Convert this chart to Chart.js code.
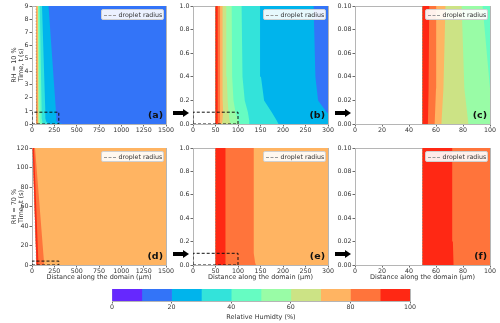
<!DOCTYPE html>
<html>
<head>
<meta charset="utf-8">
<script src="https://cdn.jsdelivr.net/npm/chart.js@4.4.1/dist/chart.umd.min.js"></script>
<style>
  html, body { margin: 0; padding: 0; background: #fff; }
  #page { position: relative; width: 500px; height: 323px; overflow: hidden; font-family: 'DejaVu Sans', sans-serif; }
  canvas { position: absolute; }
  .legend { position: absolute; box-sizing: border-box; width: 63px; height: 11px; background: rgba(255,255,255,0.9);
            border: 1px solid #d0d0d0; border-radius: 2px; font-size: 6.3px; color: #333; line-height: 9px; white-space: nowrap; }
  .legend i { display: inline-block; width: 12px; border-top: 1px dashed #999; vertical-align: middle; margin: 0 3px 0 2px; }
  .tag { position: absolute; font-weight: bold; font-size: 9.5px; line-height: 10px; color: #111; }
  .arrow { position: absolute; width: 16px; height: 8px; }
  .arrow b { position: absolute; left: 0; top: 2.3px; width: 11px; height: 3.4px; background: #000; }
  .arrow s { position: absolute; left: 10px; top: 0; width: 0; height: 0; border-left: 6px solid #000;
             border-top: 4px solid transparent; border-bottom: 4px solid transparent; }
</style>
</head>
<body>
<div id="page"></div>
<script>
// RH contour levels (%) and the rainbow colour of each band
const rhLevels = [0, 10, 20, 30, 40, 50, 60, 70, 80, 90, 100];
const rhColors = ['#6628fe', '#3374f8', '#00b4ec', '#33e3da', '#66fcc2', '#99fca6', '#cce385', '#ffb462', '#ff743b', '#ff2814'];

// RH = 10 % run: time (s) and the position (um) of each RH contour
const timeLow   = [0, 0.03, 0.1, 0.2, 0.4, 1, 9];
const radiusLow = [50, 50, 50, 50, 50, 50, 45];
const rh90Low   = [54, 54.5, 55, 55, 55, 55, 52];
const rh80Low   = [59, 60, 60.5, 60, 60, 60, 55];
const rh70Low   = [64, 65.5, 67, 66, 65.5, 66, 60];
const rh60Low   = [84, 81, 79, 77, 75, 74, 65];
const rh50Low   = [104, 100, 94.5, 90, 87, 86, 72];
const rh40Low   = [126, 125, 122, 115, 110, 108, 87];
const rh30Low   = [190, 186, 175, 158, 151, 149, 112];
const rh20Low   = [340, 320, 297, 278, 272, 268, 185];

// RH = 70 % run
const timeHigh   = [0, 0.02, 0.1, 1, 120];
const radiusHigh = [50, 50, 50, 50, 7];
const rh90High   = [73, 72.5, 72, 72, 22];
const rh80High   = [140, 138, 135, 135, 34];

const domainEnd = 1500;

// axis ranges of the three zoom levels
const xMaxes = [1500, 300, 100];
const xSteps = [250, 50, 20];
const yMaxLow = [9, 1, 0.1];
const yStepLow = [1, 0.2, 0.02];
const yMaxHigh = [120, 1, 0.1];
const yStepHigh = [20, 0.2, 0.02];
const yDecimals = [0, 1, 2];

// dashed boxes marking the zoomed window [x, t]
const zoomBoxA = [300, 0.9];
const zoomBoxB = [100, 0.1];
const zoomBoxD = [300, 4];
const zoomBoxE = [100, 0.1];

const tickFont = { family: 'DejaVu Sans', size: 6.3 };
const titleFont = { family: 'DejaVu Sans', size: 6.5, lineHeight: 1 };
const frameColor = '#b5b5b5';
const page = document.getElementById('page');

function polygon(times, inner, outer) {
    const pts = times.map((t, i) => ({ x: outer[i], y: t }));
    for (let i = times.length - 1; i >= 0; i--) pts.push({ x: inner[i], y: times[i] });
    return pts;
}

function bandSets(times, radius, bounds, colorIdx) {
    return bounds.map((outer, k) => ({
        data: polygon(times, radius, outer),
        showLine: true,
        fill: 'shape',
        backgroundColor: rhColors[colorIdx[k]],
        borderWidth: 0,
        pointRadius: 0
    }));
}

const lowBands = bandSets(timeLow, radiusLow,
    [rh90Low, rh80Low, rh70Low, rh60Low, rh50Low, rh40Low, rh30Low, rh20Low, timeLow.map(() => domainEnd)],
    [9, 8, 7, 6, 5, 4, 3, 2, 1]);
const highBands = bandSets(timeHigh, radiusHigh,
    [rh90High, rh80High, timeHigh.map(() => domainEnd)],
    [9, 8, 7]);

const panels = [
    { tag: '(a)', run: 'low', z: 0, left: 32, top: 6, right: 166, bottom: 124, box: zoomBoxA, yTitle: ['RH = 10 %', 'Time, t (s)'] },
    { tag: '(b)', run: 'low', z: 1, left: 193, top: 6, right: 328, bottom: 124, box: zoomBoxB },
    { tag: '(c)', run: 'low', z: 2, left: 355, top: 6, right: 490, bottom: 124 },
    { tag: '(d)', run: 'high', z: 0, left: 32, top: 148, right: 166, bottom: 265, box: zoomBoxD, yTitle: ['RH = 70 %', 'Time, t (s)'], xTitle: true },
    { tag: '(e)', run: 'high', z: 1, left: 193, top: 148, right: 328, bottom: 265, box: zoomBoxE, xTitle: true },
    { tag: '(f)', run: 'high', z: 2, left: 355, top: 148, right: 490, bottom: 265, xTitle: true }
];

const yAxisW = 32;
const padTop = 6;
const padRight = 10;

function frameAxis(axis, position) {
    return {
        type: 'linear', axis: axis, position: position, display: true,
        ticks: { display: false }, grid: { display: false },
        border: { color: frameColor, width: 1 },
        afterFit: s => { if (axis === 'x') s.height = 0; else s.width = 0; }
    };
}

panels.forEach(p => {
    const low = p.run === 'low';
    const times = low ? timeLow : timeHigh;
    const radius = low ? radiusLow : radiusHigh;
    const xAxisH = p.xTitle ? 16 : 14;
    const cLeft = p.left - yAxisW;
    const cTop = p.top - padTop;
    const w = p.right + padRight - cLeft;
    const h = p.bottom + xAxisH - cTop;

    const canvas = document.createElement('canvas');
    canvas.width = w; canvas.height = h;
    canvas.style.left = cLeft + 'px'; canvas.style.top = cTop + 'px';
    canvas.style.width = w + 'px'; canvas.style.height = h + 'px';
    page.appendChild(canvas);

    const datasets = [];
    if (p.box) {
        datasets.push({
            data: [{ x: 0, y: 0 }, { x: p.box[0], y: 0 }, { x: p.box[0], y: p.box[1] }, { x: 0, y: p.box[1] }, { x: 0, y: 0 }],
            showLine: true, fill: false, borderColor: '#111', borderWidth: 1, borderDash: [3, 2], pointRadius: 0
        });
    }
    datasets.push({
        label: 'droplet radius',
        data: times.map((t, i) => ({ x: radius[i], y: t })),
        showLine: true, fill: false, borderColor: 'rgba(120,120,120,0.7)', borderWidth: 0.7, borderDash: [1.5, 1.5], pointRadius: 0
    });
    (low ? lowBands : highBands).forEach(b => datasets.push(b));

    const yMax = low ? yMaxLow[p.z] : yMaxHigh[p.z];
    const yStep = low ? yStepLow[p.z] : yStepHigh[p.z];

    new Chart(canvas, {
        type: 'scatter',
        data: { datasets: datasets },
        options: {
            responsive: false, animation: false, devicePixelRatio: 1, events: [],
            layout: { padding: { top: padTop, right: padRight, left: 0, bottom: 0 } },
            plugins: { legend: { display: false }, tooltip: { enabled: false } },
            scales: {
                x: {
                    type: 'linear', min: 0, max: xMaxes[p.z],
                    ticks: { stepSize: xSteps[p.z], autoSkip: false, maxRotation: 0, font: tickFont, color: '#333', padding: 0,
                             callback: v => String(v) },
                    grid: { display: true, drawOnChartArea: false, tickLength: 2.5, tickColor: '#444', tickWidth: 0.8 },
                    border: { color: frameColor, width: 1 },
                    title: { display: !!p.xTitle, text: 'Distance along the domain (μm)', font: titleFont, color: '#333',
                             padding: { top: 0, bottom: 0.75 } },
                    afterFit: s => { s.height = xAxisH; }
                },
                y: {
                    type: 'linear', min: 0, max: yMax,
                    ticks: { stepSize: yStep, font: tickFont, color: '#333', padding: 1,
                             callback: v => v.toFixed(yDecimals[p.z]) },
                    grid: { display: true, drawOnChartArea: false, tickLength: 2.5, tickColor: '#444', tickWidth: 0.8 },
                    border: { color: frameColor, width: 1 },
                    title: { display: !!p.yTitle, text: p.yTitle || '', font: titleFont, color: '#333',
                             padding: { top: 11.5, bottom: 0 } },
                    afterFit: s => { s.width = yAxisW; }
                },
                xTop: frameAxis('x', 'top'),
                yRight: frameAxis('y', 'right')
            }
        }
    });

    const lg = document.createElement('div');
    lg.className = 'legend';
    lg.style.left = (p.right - 2.5 - 63) + 'px';
    lg.style.top = (p.top + 3) + 'px';
    lg.innerHTML = '<i></i>droplet radius';
    page.appendChild(lg);

    const tg = document.createElement('div');
    tg.className = 'tag';
    tg.textContent = p.tag;
    tg.style.right = (500 - p.right + 3) + 'px';
    tg.style.top = (p.bottom - 14) + 'px';
    page.appendChild(tg);

    if (p.z > 0) {
        const ar = document.createElement('div');
        ar.className = 'arrow';
        ar.innerHTML = '<b></b><s></s>';
        ar.style.left = (p.left - 20) + 'px';
        ar.style.top = (p.bottom - 15) + 'px';
        page.appendChild(ar);
    }
});

// colour bar
const cb = document.createElement('canvas');
cb.width = 320; cb.height = 40;
cb.style.left = '100px'; cb.style.top = '283px';
cb.style.width = '320px'; cb.style.height = '40px';
page.appendChild(cb);

new Chart(cb, {
    type: 'bar',
    data: {
        labels: [''],
        datasets: rhColors.map((c, i) => ({
            data: [rhLevels[i + 1] - rhLevels[i]],
            backgroundColor: c, borderWidth: 0, barPercentage: 1, categoryPercentage: 1
        }))
    },
    options: {
        indexAxis: 'y',
        responsive: false, animation: false, devicePixelRatio: 1, events: [],
        layout: { padding: { top: 6, right: 10, left: 12, bottom: 0 } },
        plugins: { legend: { display: false }, tooltip: { enabled: false } },
        scales: {
            x: {
                stacked: true, min: 0, max: 100,
                ticks: { stepSize: 20, font: tickFont, color: '#333', padding: 0 },
                grid: { display: true, drawOnChartArea: false, tickLength: 2.5, tickColor: '#444', tickWidth: 0.8 },
                border: { color: frameColor, width: 1 },
                title: { display: true, text: 'Relative Humidty (%)', font: titleFont, color: '#333', padding: { top: 0, bottom: 2.75 } },
                afterFit: s => { s.height = 22; }
            },
            y: {
                stacked: true,
                ticks: { display: false }, grid: { display: false },
                border: { color: frameColor, width: 1 },
                afterFit: s => { s.width = 0; }
            },
            xTop: frameAxis('x', 'top'),
            yRight: frameAxis('y', 'right')
        }
    }
});
</script>
</body>
</html>
